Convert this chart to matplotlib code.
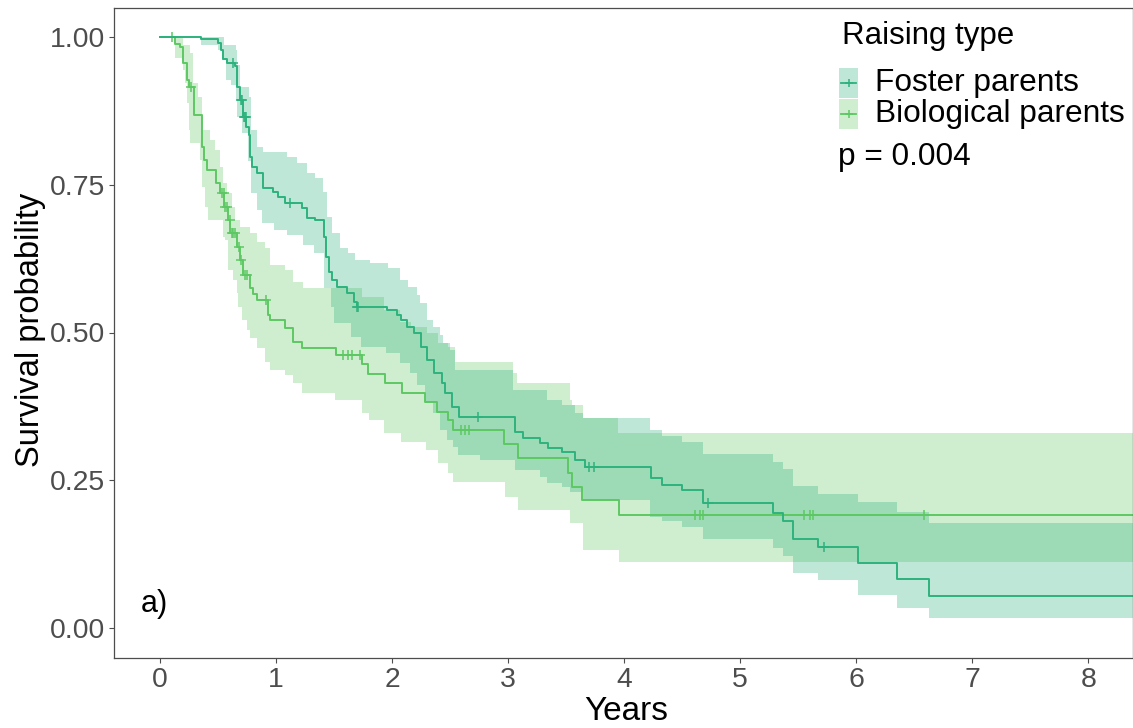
import numpy as np
import matplotlib.pyplot as plt
from matplotlib.patches import Rectangle
from matplotlib.lines import Line2D

plt.rcParams['font.family'] = ['Liberation Sans', 'DejaVu Sans']

# Kaplan-Meier estimates (years, survival probability)
foster_t = [0, 0.353, 0.500, 0.526, 0.543, 0.578, 0.647, 0.664, 0.690, 0.716,
            0.741, 0.767, 0.776, 0.793, 0.836, 0.888, 0.974, 1.017, 1.078, 1.224,
            1.267, 1.336, 1.414, 1.431, 1.457, 1.483, 1.526, 1.612, 1.672, 1.698,
            1.957, 2.043, 2.078, 2.129, 2.190, 2.250, 2.302, 2.362, 2.431, 2.457,
            2.517, 2.578, 3.060, 3.129, 3.276, 3.345, 3.466, 3.578, 3.664, 4.233,
            4.328, 4.500, 4.681, 5.284, 5.371, 5.457, 5.672, 6.017, 6.353, 6.629]
foster_s = [1.000, 0.997, 0.990, 0.978, 0.963, 0.956, 0.951, 0.915, 0.893, 0.865,
            0.848, 0.834, 0.797, 0.780, 0.770, 0.745, 0.738, 0.729, 0.719, 0.711,
            0.694, 0.690, 0.662, 0.628, 0.602, 0.589, 0.577, 0.567, 0.552, 0.543,
            0.538, 0.530, 0.521, 0.509, 0.499, 0.475, 0.453, 0.431, 0.415, 0.398,
            0.374, 0.357, 0.332, 0.321, 0.313, 0.305, 0.298, 0.284, 0.272, 0.254,
            0.242, 0.234, 0.212, 0.195, 0.181, 0.151, 0.137, 0.110, 0.083, 0.054]
foster_censor = [0.63, 0.70, 0.71, 0.72, 0.73, 0.74, 1.12, 1.70, 1.71, 2.74,
                 3.70, 3.74, 4.72, 5.72]

foster_up_t = [0, 0.552, 0.655, 0.664, 0.690, 0.767, 0.784, 0.836, 0.888, 1.095,
               1.181, 1.267, 1.336, 1.405, 1.440, 1.483, 1.552, 1.621, 1.681, 1.810,
               1.966, 2.069, 2.138, 2.216, 2.241, 2.302, 2.353, 2.414, 2.440, 2.500,
               2.543, 3.043, 3.336, 3.466, 3.578, 3.647, 4.224, 4.328, 4.500, 4.681,
               5.284, 5.371, 5.457, 5.672, 6.017, 6.353, 6.629]
foster_up_s = [1.000, 0.986, 0.978, 0.953, 0.915, 0.898, 0.843, 0.814, 0.805, 0.797,
               0.787, 0.770, 0.761, 0.738, 0.695, 0.668, 0.643, 0.635, 0.623, 0.618,
               0.609, 0.589, 0.577, 0.563, 0.550, 0.521, 0.509, 0.496, 0.482, 0.470,
               0.437, 0.403, 0.386, 0.377, 0.364, 0.355, 0.335, 0.325, 0.315, 0.294,
               0.281, 0.269, 0.240, 0.227, 0.213, 0.196, 0.178]
foster_lo_t = [0, 0.353, 0.500, 0.534, 0.569, 0.612, 0.655, 0.664, 0.707, 0.760,
               0.784, 0.836, 0.879, 0.983, 1.095, 1.233, 1.328, 1.414, 1.474, 1.500,
               1.647, 1.733, 1.948, 2.069, 2.155, 2.216, 2.284, 2.353, 2.414, 2.474,
               2.526, 2.569, 2.759, 3.060, 3.276, 3.336, 3.466, 3.534, 3.647, 4.224,
               4.328, 4.500, 4.681, 5.284, 5.371, 5.457, 5.672, 6.017, 6.353, 6.629]
foster_lo_s = [1.000, 0.986, 0.978, 0.961, 0.927, 0.919, 0.893, 0.865, 0.838, 0.790,
               0.736, 0.707, 0.685, 0.673, 0.665, 0.648, 0.635, 0.575, 0.543, 0.516,
               0.492, 0.475, 0.465, 0.448, 0.431, 0.411, 0.381, 0.364, 0.335, 0.318,
               0.306, 0.293, 0.284, 0.267, 0.255, 0.245, 0.239, 0.230, 0.217, 0.188,
               0.181, 0.171, 0.151, 0.135, 0.122, 0.093, 0.081, 0.056, 0.034, 0.017]

bio_t = [0, 0.129, 0.170, 0.198, 0.233, 0.250, 0.293, 0.362, 0.379, 0.405,
         0.483, 0.517, 0.552, 0.586, 0.603, 0.664, 0.690, 0.716, 0.776, 0.802,
         0.836, 0.931, 0.948, 1.078, 1.147, 1.224, 1.517, 1.741, 1.793, 1.940,
         2.086, 2.284, 2.388, 2.483, 2.526, 2.966, 3.086, 3.517, 3.552, 3.638,
         3.957]
bio_s = [1.000, 0.988, 0.983, 0.956, 0.927, 0.915, 0.868, 0.814, 0.792, 0.775,
         0.753, 0.736, 0.712, 0.690, 0.668, 0.645, 0.623, 0.597, 0.575, 0.565,
         0.555, 0.530, 0.521, 0.508, 0.484, 0.474, 0.462, 0.447, 0.430, 0.415,
         0.398, 0.382, 0.365, 0.352, 0.335, 0.311, 0.288, 0.262, 0.239, 0.217,
         0.191]
bio_censor = [0.10, 0.27, 0.53, 0.55, 0.56, 0.58, 0.60, 0.62, 0.63, 0.65,
              0.68, 0.70, 0.73, 0.75, 0.91, 1.58, 1.62, 1.65, 1.72, 2.59,
              2.63, 2.66, 4.61, 4.65, 4.68, 5.55, 5.60, 5.63, 6.58]

bio_up_t = [0, 0.198, 0.259, 0.284, 0.328, 0.362, 0.431, 0.474, 0.517, 0.543,
            0.578, 0.621, 0.647, 0.690, 0.776, 0.836, 0.905, 0.948, 1.078, 1.147,
            1.233, 1.741, 1.931, 2.069, 2.164, 2.302, 2.397, 2.483, 2.543, 3.043,
            3.078, 3.534, 3.552, 3.647, 3.948]
bio_up_s = [1.000, 0.986, 0.973, 0.922, 0.898, 0.843, 0.826, 0.809, 0.780, 0.753,
            0.736, 0.712, 0.690, 0.679, 0.668, 0.653, 0.643, 0.614, 0.606, 0.585,
            0.575, 0.560, 0.538, 0.518, 0.509, 0.499, 0.482, 0.475, 0.450, 0.431,
            0.415, 0.386, 0.377, 0.355, 0.330]
bio_lo_t = [0, 0.129, 0.198, 0.216, 0.233, 0.250, 0.259, 0.345, 0.362, 0.388,
            0.414, 0.543, 0.560, 0.586, 0.629, 0.664, 0.672, 0.707, 0.750, 0.776,
            0.836, 0.905, 0.948, 1.078, 1.147, 1.224, 1.509, 1.741, 1.802, 1.931,
            2.078, 2.293, 2.397, 2.483, 2.526, 2.974, 3.086, 3.534, 3.647, 3.957]
bio_lo_s = [1.000, 0.965, 0.944, 0.922, 0.888, 0.843, 0.821, 0.792, 0.746, 0.712,
            0.690, 0.662, 0.656, 0.606, 0.589, 0.567, 0.543, 0.521, 0.504, 0.491,
            0.474, 0.450, 0.437, 0.428, 0.415, 0.398, 0.386, 0.364, 0.352, 0.330,
            0.315, 0.301, 0.279, 0.262, 0.247, 0.222, 0.200, 0.178, 0.132, 0.112]

x_ticks = [0, 1, 2, 3, 4, 5, 6, 7, 8]
y_ticks = [0.00, 0.25, 0.50, 0.75, 1.00]
t_end = 8.6

foster_col = '#2DB27D'
bio_col = '#5DC863'


def step_eval(t_knots, s_knots, grid):
    """value of a right-continuous step function on grid"""
    idx = np.searchsorted(np.asarray(t_knots), grid, side='right') - 1
    return np.asarray(s_knots)[idx]


def draw_group(ax, t, s, up_t, up_s, lo_t, lo_s, cens, col):
    grid = np.unique(np.concatenate([up_t, lo_t, [t_end]]))
    ax.fill_between(grid, step_eval(lo_t, lo_s, grid), step_eval(up_t, up_s, grid),
                    step='post', color=col, alpha=0.3, linewidth=0)
    ax.step(list(t) + [t_end], list(s) + [s[-1]], where='post', color=col, lw=1.4)
    cens = np.asarray(cens)
    ax.plot(cens, step_eval(t, s, cens), ls='none', marker='+', ms=7, mew=1.1,
            color=col)


fig = plt.figure(figsize=(11.33, 7.28), dpi=100)
ax = fig.add_axes([114 / 1133, 1 - 657.5 / 728, 1 - 114 / 1133, (657.5 - 7.5) / 728])

draw_group(ax, bio_t, bio_s, bio_up_t, bio_up_s, bio_lo_t, bio_lo_s, bio_censor, bio_col)
draw_group(ax, foster_t, foster_s, foster_up_t, foster_up_s, foster_lo_t, foster_lo_s,
           foster_censor, foster_col)

ax.set_xlim(-0.397, 8.385)
ax.set_ylim(-0.05, 1.05)
ax.set_xticks(x_ticks)
ax.set_xticklabels([str(v) for v in x_ticks])
ax.set_yticks(y_ticks)
ax.set_yticklabels([f"{v:.2f}" for v in y_ticks])
ax.tick_params(labelsize=20.4, colors='#4d4d4d', length=3.6, width=0.8, pad=3)
for sp in ax.spines.values():
    sp.set_color('#4d4d4d')
    sp.set_linewidth(0.9)

fig.text(626 / 1133, 1 - 711 / 728, "Years", fontsize=24, ha='center', va='center')
fig.text(31 / 1133, 1 - 330 / 728, "Survival probability", fontsize=23.5, rotation=90,
         ha='center', va='center')
ax.text(-0.17, 0.04, "a)", fontsize=22, ha='left', va='center')

# legend drawn by hand
fig.text(842 / 1133, 1 - 36 / 728, "Raising type", fontsize=22.5, ha='left', va='center')
for i, (lab, col) in enumerate([("Foster parents", foster_col),
                                ("Biological parents", bio_col)]):
    yc = 83 + i * 31
    fig.add_artist(Rectangle((839 / 1133, 1 - (yc + 15) / 728), 19 / 1133, 30 / 728,
                             transform=fig.transFigure, color=col, alpha=0.3, lw=0))
    fig.add_artist(Line2D([841 / 1133, 856 / 1133], [1 - yc / 728] * 2,
                          transform=fig.transFigure, color=col, lw=1.3))
    fig.add_artist(Line2D([848.5 / 1133], [1 - yc / 728], transform=fig.transFigure,
                          color=col, marker='+', ms=6, mew=1.1))
    fig.text(875 / 1133, 1 - yc / 728, lab, fontsize=22.8, ha='left', va='center')
fig.text(838 / 1133, 1 - 157 / 728, "p = 0.004", fontsize=22.8, ha='left', va='center')

fig.savefig("out.png", dpi=100)
